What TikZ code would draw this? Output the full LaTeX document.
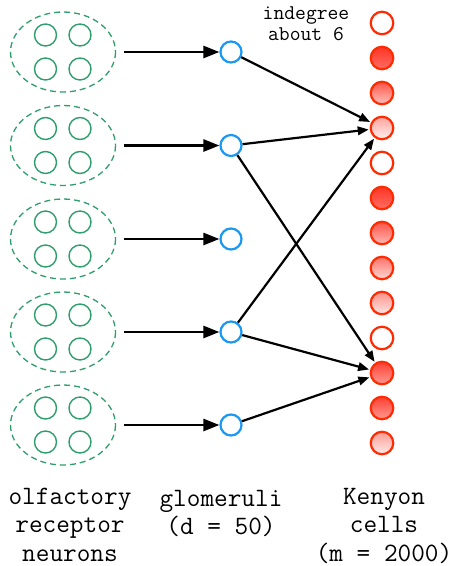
\documentclass[tikz,border=0pt]{standalone}
\usepackage{fontspec}
\usetikzlibrary{arrows.meta}
\definecolor{orngreen}{HTML}{2E9E6C}
\definecolor{glomblue}{HTML}{1A98F2}
\definecolor{kcred}{HTML}{FF2A00}
\definecolor{kcfill}{HTML}{FF3526}
\tikzset{
  orn/.style={circle, draw=orngreen, line width=1.4pt, minimum size=22pt, inner sep=0pt},
  glom/.style={circle, draw=glomblue, line width=2.2pt, minimum size=21pt, inner sep=0pt, fill=white},
  kc/.style={circle, draw=kcred, line width=2.2pt, minimum size=22.5pt, inner sep=0pt, fill=white},
  kcshade/.style 2 args={kc, top color=kcfill!#1, bottom color=kcfill!#2},
  feed/.style={-{Triangle[length=16pt,width=12pt]}, line width=2.6pt, black},
  proj/.style={-{Triangle[length=11pt,width=8.5pt]}, line width=2.2pt, black, shorten >=1pt},
  lbl/.style={font=\ttfamily\fontsize{26.5}{28.5}\selectfont, align=center, inner sep=0pt},
  note/.style={font=\ttfamily\fontsize{21}{21}\selectfont, align=center, inner sep=0pt}
}
\begin{document}
\begin{tikzpicture}[x=1pt,y=-1pt]
  \useasboundingbox (0,0) rectangle (455,566);
  % olfactory receptor neuron groups and glomeruli
  \foreach \i/\y in {1/52,2/145.5,3/239,4/332,5/425}{
    \draw[orngreen, line width=1.3pt, dash pattern=on 6pt off 4pt] (63,\y) ellipse [x radius=52.5, y radius=40];
    \node[orn] (o\i a) at (45.5,\y-17) {};
    \node[orn] (o\i b) at (80,\y-17) {};
    \node[orn] (o\i c) at (45.5,\y+17) {};
    \node[orn] (o\i d) at (80,\y+17) {};
    \coordinate (s\i) at (124,\y);
    \node[glom] (g\i) at (231,\y) {};
    \draw[feed] (s\i) -- (g\i.west);
  }
  % Kenyon cells
  \node[kc] (k1) at (382,23) {};
  \node[kcshade={100}{72}] (k2) at (382,58) {};
  \node[kcshade={85}{30}] (k3) at (382,93) {};
  \node[kcshade={45}{8}] (k4) at (382,128) {};
  \node[kc] (k5) at (382,163) {};
  \node[kcshade={100}{72}] (k6) at (382,198) {};
  \node[kcshade={85}{35}] (k7) at (382,233) {};
  \node[kcshade={70}{20}] (k8) at (382,268) {};
  \node[kcshade={55}{12}] (k9) at (382,303) {};
  \node[kc] (k10) at (382,338) {};
  \node[kcshade={95}{50}] (k11) at (382,373) {};
  \node[kcshade={95}{50}] (k12) at (382,408) {};
  \node[kcshade={50}{10}] (k13) at (382,443) {};
  % random projections
  \draw[proj] (g1) -- (k4);
  \draw[proj] (g2) -- (k4);
  \draw[proj] (g2) -- (k11);
  \draw[proj] (g4) -- (k4);
  \draw[proj] (g4) -- (k11);
  \draw[proj] (g5) -- (k11);
  % labels
  \node[note] (indeg) at (306,23.6) {indegree\\about 6};
  \node[lbl] (lorn) at (70,524.4) {olfactory\\receptor\\neurons};
  \node[lbl] (lglom) at (221,513.7) {glomeruli\\(d = 50)};
  \node[lbl] (lkc) at (384,525.5) {Kenyon\\cells\\(m = 2000)};
\end{tikzpicture}
\end{document}
